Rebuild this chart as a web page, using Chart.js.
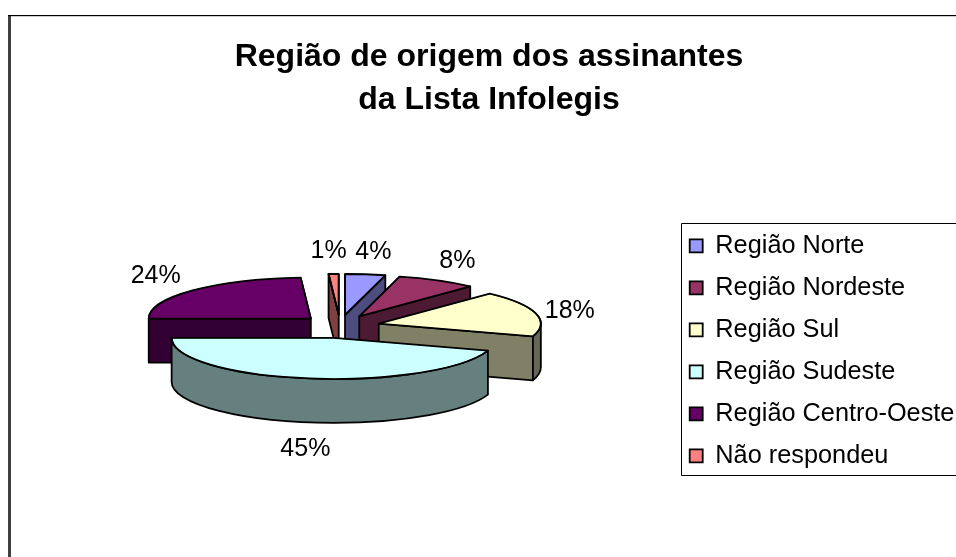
<!DOCTYPE html>
<html lang="pt">
<head>
<meta charset="utf-8">
<style>html,body{margin:0;padding:0;background:#fff;overflow:hidden}canvas{display:block}</style>
<script src="https://cdn.jsdelivr.net/npm/chart.js@4/dist/chart.umd.min.js"></script>
</head>
<body>
<canvas id="c" width="956" height="557"></canvas>
<script>
const titleLines = ['Região de origem dos assinantes', 'da Lista Infolegis'];
const categories = ['Região Norte', 'Região Nordeste', 'Região Sul', 'Região Sudeste', 'Região Centro-Oeste', 'Não respondeu'];
const values = [4, 8, 18, 45, 24, 1];
const topColors = ['#9999FF', '#993366', '#FFFFCC', '#CCFFFF', '#660066', '#FF8080'];
const wallColors = ['#4D4D80', '#4D1A33', '#808066', '#668080', '#330033', '#804040'];
const rimColors = ['#4D4D80', '#4D1A33', '#666652', '#668080', '#330033', '#804040'];
const labelNudges = [[8, -24], [20, -21], [34, -3], [-3, 28], [-37, -15], [-5, -24]];

const SQUASH = 0.253, EXPLODE = 40, EXPLODE_Y = 0.29, DEPTH = 44, LINE = 1.8;

const fontFamily = '"Liberation Sans", Arial, sans-serif';

const pie3d = {
  id: 'pie3d',
  afterLayout(chart) {
    const a = chart.chartArea;
    a.left = 177; a.right = 503; a.top = 163.5; a.bottom = 489.5; a.width = 326; a.height = 326;
    const t = chart.titleBlock; t.left = 22; t.right = 956; t.top = 35.5;
    const l = chart.legend; l.left = 673; l.right = 956; l.top = 216.5; l.bottom = 557;
  },
  beforeDraw(chart) {
    const c = chart.ctx;
    c.save();
    c.fillStyle = '#fff'; c.fillRect(0, 0, 956, 557);
    c.fillStyle = '#404040'; c.fillRect(8, 15, 3, 542);
    c.fillStyle = '#000'; c.fillRect(8, 15, 948, 1.2);
    c.strokeStyle = '#000'; c.lineWidth = 1;
    c.beginPath(); c.moveTo(956, 223.5); c.lineTo(681.5, 223.5); c.lineTo(681.5, 475.5); c.lineTo(956, 475.5); c.stroke();
    c.restore();
  },
  beforeDatasetDraw(chart, args) {
    const c = chart.ctx;
    const arcs = chart.getDatasetMeta(args.index).data.map((el, i) => ({ el, i }));
    arcs.sort((p, q) => Math.sin((p.el.startAngle + p.el.endAngle) / 2) - Math.sin((q.el.startAngle + q.el.endAngle) / 2));
    c.save();
    c.lineJoin = 'round';
    c.lineWidth = LINE;
    c.strokeStyle = '#000';
    for (const { el, i } of arcs) {
      const s = el.startAngle, e = el.endAngle, R = el.outerRadius, mid = (s + e) / 2;
      const cx = el.x + Math.cos(mid) * EXPLODE, cy = el.y + Math.sin(mid) * EXPLODE * EXPLODE_Y;
      const px = a => cx + R * Math.cos(a), py = a => cy + R * SQUASH * Math.sin(a);
      const wall = a => {
        c.beginPath();
        c.moveTo(cx, cy); c.lineTo(px(a), py(a)); c.lineTo(px(a), py(a) + DEPTH); c.lineTo(cx, cy + DEPTH); c.closePath();
        c.fillStyle = wallColors[i]; c.fill(); c.stroke();
      };
      if (Math.cos(e) > 0.001) wall(e);
      if (Math.cos(s) < -0.001) wall(s);
      const a1 = Math.max(s, 0), a2 = Math.min(e, Math.PI);
      if (a2 > a1) {
        c.beginPath();
        c.ellipse(cx, cy, R, R * SQUASH, 0, a1, a2);
        c.ellipse(cx, cy + DEPTH, R, R * SQUASH, 0, a2, a1, true);
        c.closePath();
        c.fillStyle = rimColors[i]; c.fill(); c.stroke();
      }
      c.save();
      c.translate(cx, cy); c.scale(1, SQUASH); c.translate(-el.x, -el.y);
      el.draw(c);
      c.restore();
      c.beginPath();
      c.moveTo(cx, cy);
      c.ellipse(cx, cy, R, R * SQUASH, 0, s, e);
      c.closePath();
      c.stroke();
    }
    c.fillStyle = '#000';
    c.font = '25px ' + fontFamily;
    c.textAlign = 'center'; c.textBaseline = 'middle';
    for (const { el, i } of arcs) {
      const mid = (el.startAngle + el.endAngle) / 2, r = el.outerRadius + EXPLODE;
      const x = el.x + Math.cos(mid) * r + labelNudges[i][0];
      const y = el.y + Math.sin(mid) * r * SQUASH + (Math.sin(mid) > 0 ? DEPTH : 0) + labelNudges[i][1];
      c.fillText(values[i] + '%', x, y);
    }
    c.restore();
    return false;
  }
};

new Chart(document.getElementById('c'), {
  type: 'pie',
  data: {
    labels: categories,
    datasets: [{ data: values, backgroundColor: topColors, borderColor: '#000', borderWidth: LINE }]
  },
  options: {
    responsive: false,
    animation: false,
    plugins: {
      tooltip: { enabled: false },
      title: {
        display: true, text: titleLines, color: '#000', padding: 0,
        font: { family: fontFamily, size: 32, weight: 'bold', lineHeight: 1.344 }
      },
      legend: {
        display: true, position: 'right', align: 'start',
        labels: {
          color: '#000', boxWidth: 13, boxHeight: 13, padding: 16.7,
          font: { family: fontFamily, size: 25.3 }
        }
      }
    }
  },
  plugins: [pie3d]
});
</script>
</body>
</html>
